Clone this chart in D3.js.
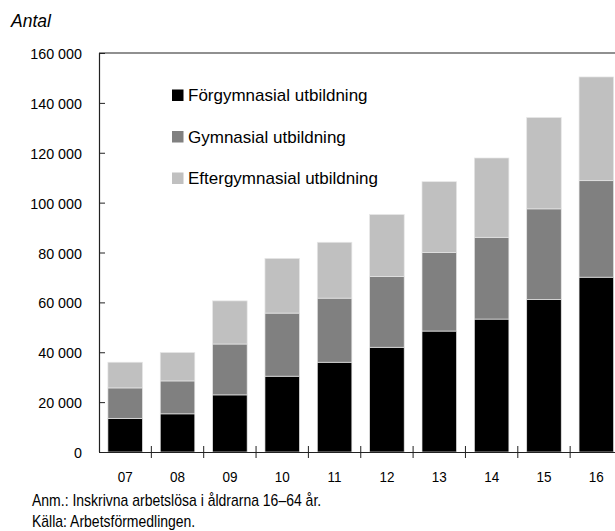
<!DOCTYPE html>
<html><head><meta charset="utf-8">
<script src="https://cdn.jsdelivr.net/npm/d3@7"></script>
<style>body{margin:0;background:#fff}svg{display:block}</style>
</head><body>
<svg id="c" width="615" height="531"></svg>
<script>
const years = ["07","08","09","10","11","12","13","14","15","16"];
const seriesNames = ["Förgymnasial utbildning","Gymnasial utbildning","Eftergymnasial utbildning"];
// segment values (thousands)
const forgymnasial = [13.5,15.3,22.9,30.4,36.0,42.0,48.5,53.3,61.2,70.1];
const gymnasial    = [12.2,13.2,20.4,25.3,25.7,28.4,31.5,32.8,36.3,38.7];
const eftergymnasial=[10.3,11.4,17.3,21.9,22.4,24.8,28.4,31.8,36.6,41.6];
const yTicks = [0,20000,40000,60000,80000,100000,120000,140000,160000];
const colors = ["#000000","#808080","#c0c0c0"];

(function(){
const svg = d3.select("#c");
const FONT = "'Liberation Sans',Arial,sans-serif";
const mLeft = 99, mTop = 53, mBottom = 452;
const step = 52.35;
const x = d3.scaleBand().domain(years).range([mLeft, mLeft + step*years.length]).paddingInner(0.34).paddingOuter(0.17);
const y = d3.scaleLinear().domain([0,160000]).range([mBottom, mTop]);

const data = years.map((yr,i)=>({year:yr, s0:forgymnasial[i]*1000, s1:gymnasial[i]*1000, s2:eftergymnasial[i]*1000}));
const stack = d3.stack().keys(["s0","s1","s2"])(data);

svg.append("g").selectAll("g").data(stack).join("g")
  .attr("fill",(d,i)=>colors[i])
  .selectAll("rect").data(d=>d).join("rect")
  .attr("x",d=>x(d.data.year))
  .attr("width",x.bandwidth())
  .attr("y",d=>y(d[1]))
  .attr("height",d=>y(d[0])-y(d[1]))
  .attr("stroke","#e6e6e6").attr("stroke-width",0.7);

svg.append("line").attr("x1",mLeft).attr("x2",615).attr("y1",mTop).attr("y2",mTop).attr("stroke","#222").attr("stroke-width",1.2);

const yAxis = d3.axisLeft(y).tickValues(yTicks).tickSize(-6).tickPadding(0)
  .tickFormat(d=>d3.format(",")(d).replace(/,/g," "));
const gy = svg.append("g").attr("transform",`translate(${mLeft},0)`).call(yAxis);
gy.select(".domain").attr("stroke","#222").attr("stroke-width",1.2).attr("d",`M0.5,${mBottom}V${mTop}`);
gy.selectAll(".tick line").attr("stroke","#222");
gy.selectAll(".tick text").attr("x",0).attr("dy","0.36em")
  .attr("transform","translate(-17,0) scale(0.93,1)")
  .attr("font-family",FONT).attr("font-size",15.4).attr("fill","#000");

const gx = svg.append("g").attr("transform",`translate(0,${mBottom})`).call(d3.axisBottom(x).tickSize(0).tickPadding(0));
gx.select(".domain").attr("stroke","#222").attr("stroke-width",1.2).attr("d",`M${mLeft},0.5H615`);
gx.selectAll(".tick text").attr("y",0).attr("dy",0)
  .attr("transform","translate(0,29.5) scale(0.93,1)")
  .attr("font-family",FONT).attr("font-size",14.5).attr("fill","#000");
const sep = years.slice(1).map(yr=>x(yr) - x.step()*x.paddingInner()/2);
gx.selectAll(".sep").data(sep).join("line").attr("class","sep")
  .attr("x1",d=>d).attr("x2",d=>d).attr("y1",-6).attr("y2",6).attr("stroke","#222").attr("stroke-width",1);

svg.append("text").attr("x",11).attr("y",27).attr("font-family",FONT)
  .attr("font-style","italic").attr("font-size",17.5).text("Antal");

const lg = svg.append("g");
seriesNames.forEach((n,i)=>{
  const yy = 95 + i*41.5;
  lg.append("rect").attr("x",172).attr("y",yy-5.5).attr("width",11.5).attr("height",11.5).attr("fill",colors[i]);
  lg.append("text").attr("x",188).attr("y",yy+6).attr("font-family",FONT).attr("font-size",17).text(n);
});

svg.append("text").attr("transform","translate(32,506) scale(0.875,1)").attr("font-family",FONT).attr("font-size",16).text("Anm.: Inskrivna arbetslösa i åldrarna 16–64 år.");
svg.append("text").attr("transform","translate(32,527) scale(0.875,1)").attr("font-family",FONT).attr("font-size",16).text("Källa: Arbetsförmedlingen.");
})();
</script>
</body></html>
